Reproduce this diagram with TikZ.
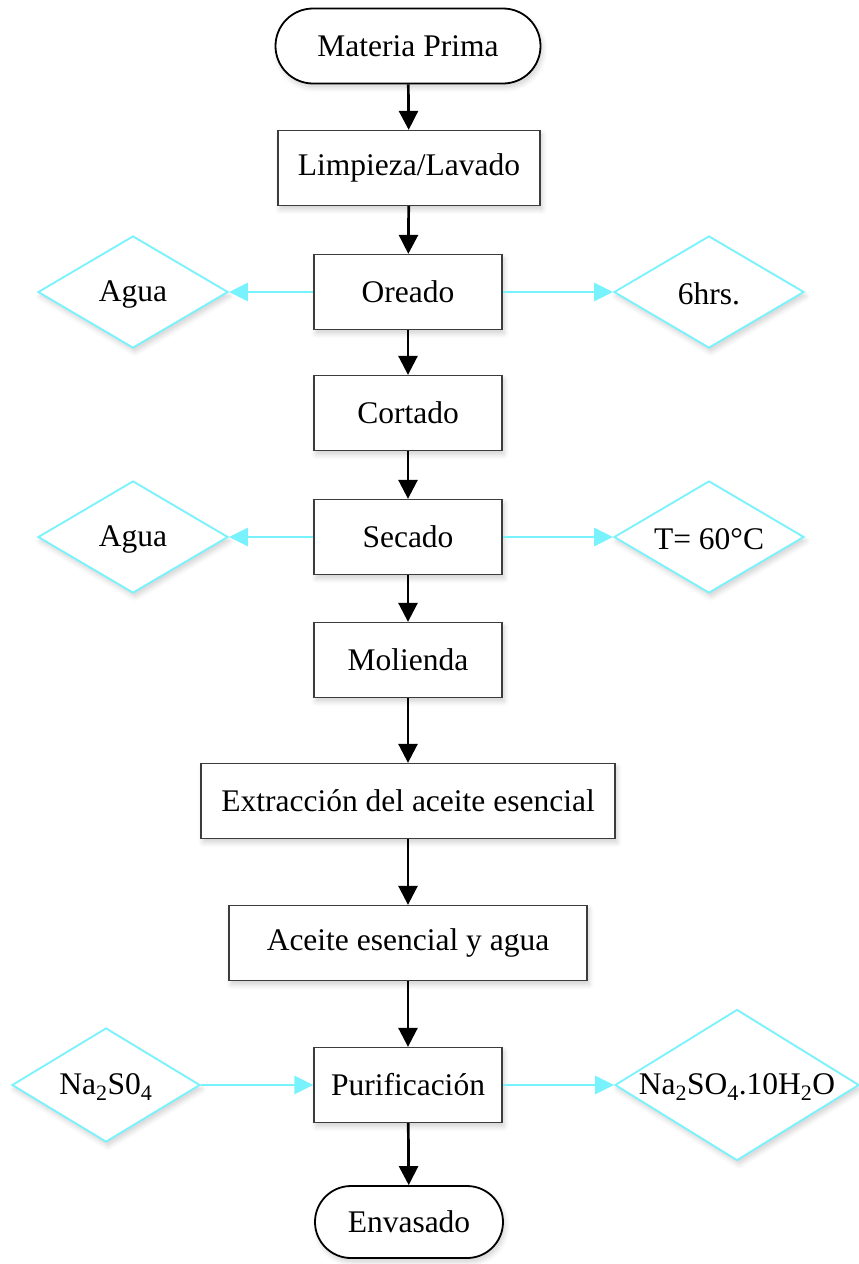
\documentclass[tikz,border=0pt]{standalone}
\usepackage{fontspec}
\setmainfont{Liberation Serif}
\usetikzlibrary{shapes.misc,shapes.geometric,arrows.meta,shadows.blur}
\definecolor{flowcyan}{RGB}{120,242,252}
\definecolor{boxgray}{RGB}{60,60,60}
\begin{document}
\begin{tikzpicture}[x=1pt,y=-1pt,
  font=\fontsize{31.5}{36}\selectfont,
  shade/.style={blur shadow={shadow xshift=2pt,shadow yshift=-4pt,shadow blur steps=6,shadow opacity=18,shadow blur radius=5pt}},
  terminal/.style={rounded rectangle,draw=black,line width=1.8pt,fill=white,
    minimum width=#1,minimum height=75,inner sep=0pt,shade},
  terminal/.default=188,
  process/.style={rectangle,draw=boxgray,line width=1.3pt,fill=white,
    minimum width=#1,minimum height=75,inner sep=0pt,shade},
  process/.default=188,
  datum/.style={diamond,draw=flowcyan,line width=1.8pt,fill=white,
    inner sep=0pt,minimum width=190,minimum height=112,shade},
  flow/.style={-{Triangle[length=19pt,width=19pt]},line width=2.7pt,black},
  side/.style={-{Triangle[length=19pt,width=18pt]},line width=2.6pt,flowcyan}]
\useasboundingbox (0,0) rectangle (859,1264);

% main column
\node[terminal=265] (mp) at (408,46) {Materia Prima};
\node[process=262] (lav) at (409,168) {Limpieza/Lavado};
\node[process] (ore) at (408,292) {Oreado};
\node[process] (cor) at (408,413) {Cortado};
\node[process] (sec) at (408,537) {Secado};
\node[process] (mol) at (408,660) {Molienda};
\node[process=414] (ext) at (408,801) {Extracción del aceite esencial};
\node[process=358] (ace) at (408,943) {Aceite esencial y agua};
\node[process] (pur) at (408,1085) {Purificación};
\node[terminal,minimum height=72] (env) at (409,1222) {Envasado};

% side inputs and outputs
\node[datum,label={[yshift=-2pt]center:Agua}] (ag1) at (133,292) {};
\node[datum,label={[yshift=-2pt]center:6hrs.}] (hrs) at (709,292) {};
\node[datum,label={[yshift=-2pt]center:Agua}] (ag2) at (133,537) {};
\node[datum,label={[yshift=-2pt]center:T= 60°C}] (tem) at (709,537) {};
\node[datum,minimum width=188,minimum height=114,
  label={[yshift=-2pt]center:Na\textsubscript{2}S0\textsubscript{4}}] (nai) at (106,1085) {};
\node[datum,minimum width=244,minimum height=151,
  label={[yshift=-2pt]center:Na\textsubscript{2}SO\textsubscript{4}.10H\textsubscript{2}O}] (nao) at (737,1085) {};

% main flow
\draw[flow] (mp) -- (lav);
\draw[flow] (lav) -- (ore);
\draw[flow] (ore) -- (cor);
\draw[flow] (cor) -- (sec);
\draw[flow] (sec) -- (mol);
\draw[flow] (mol) -- (ext);
\draw[flow] (ext) -- (ace);
\draw[flow] (ace) -- (pur);
\draw[flow] (pur) -- (env);

% side flows
\draw[side] (ore.west) -- (ag1.east);
\draw[side] (ore.east) -- (hrs.west);
\draw[side] (sec.west) -- (ag2.east);
\draw[side] (sec.east) -- (tem.west);
\draw[side] (nai.east) -- (pur.west);
\draw[side] (pur.east) -- (nao.west);
\end{tikzpicture}
\end{document}
